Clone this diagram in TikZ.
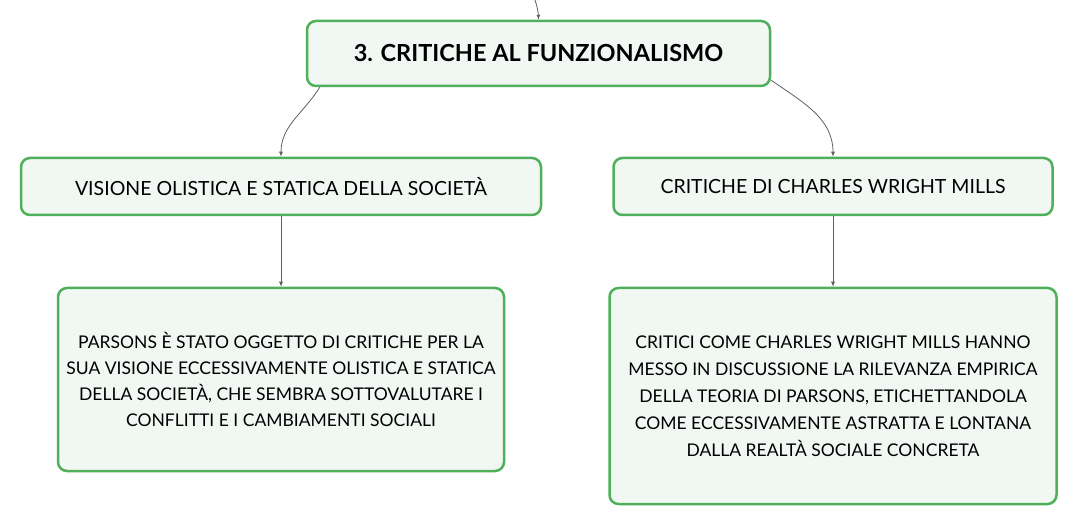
\documentclass[tikz,border=0pt]{standalone}
\usepackage{fontspec}
\setmainfont{Lato}
\usetikzlibrary{arrows.meta,positioning}
\definecolor{boxgreen}{RGB}{80,176,90}
\definecolor{boxfill}{RGB}{241,248,243}
\definecolor{linkgray}{RGB}{95,95,95}

\begin{document}
\begin{tikzpicture}[x=1pt,y=-1pt,
  box/.style={draw=boxgreen, line width=2.5pt, fill=boxfill, rounded corners=9pt, align=center, inner sep=0pt},
  link/.style={draw=linkgray, line width=0.8pt, -{Latex[length=5pt,width=4pt]}}]
  \useasboundingbox (0,0) rectangle (1078,526);
  % main topic
  \node[box, minimum width=463pt, minimum height=65pt, font=\bfseries\fontsize{23.5}{28}\selectfont] (root) at (538.5,53.5) {3. CRITICHE AL FUNZIONALISMO};
  \coordinate (in) at (535,0);
  \draw[link] (in) to[bend left=8] (root.north);
  % subtopics
  \node[box, minimum width=520pt, minimum height=57pt, font=\fontsize{19.5}{23}\selectfont] (olistica) at (281,186.5) {VISIONE OLISTICA E STATICA DELLA SOCIETÀ};
  \node[box, minimum width=439pt, minimum height=57pt, font=\fontsize{19.5}{23}\selectfont] (mills) at (833,186.5) {CRITICHE DI CHARLES WRIGHT MILLS};
  \draw[link] ([xshift=14pt]root.south west) to[out=-122,in=90] (olistica.north);
  \draw[link] ([yshift=7pt]root.south east) to[out=-35,in=90] (mills.north);
  % details
  \node[box, minimum width=446pt, minimum height=183pt, font=\fontsize{17.5}{26}\selectfont] (parsons) at (281,379.5) {PARSONS È STATO OGGETTO DI CRITICHE PER LA\\SUA VISIONE ECCESSIVAMENTE OLISTICA E STATICA\\DELLA SOCIETÀ, CHE SEMBRA SOTTOVALUTARE I\\CONFLITTI E I CAMBIAMENTI SOCIALI};
  \node[box, minimum width=447pt, minimum height=216pt, font=\fontsize{17.5}{27}\selectfont] (critici) at (833,396) {CRITICI COME CHARLES WRIGHT MILLS HANNO\\MESSO IN DISCUSSIONE LA RILEVANZA EMPIRICA\\DELLA TEORIA DI PARSONS, ETICHETTANDOLA\\COME ECCESSIVAMENTE ASTRATTA E LONTANA\\DALLA REALTÀ SOCIALE CONCRETA};
  \draw[link] (olistica) -- (parsons);
  \draw[link] (mills) -- (critici);
\end{tikzpicture}
\end{document}
